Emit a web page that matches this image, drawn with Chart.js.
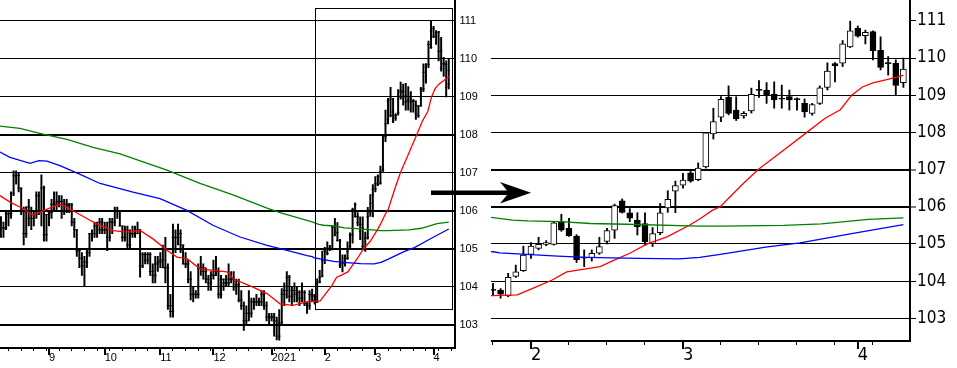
<!DOCTYPE html>
<html lang="en">
<head>
<meta charset="UTF-8">
<title>USD/JPY daily</title>
<script src="https://cdn.jsdelivr.net/npm/chart.js"></script>
<style>
  body { margin: 0; background: #fff; }
  .wrap { position: relative; width: 957px; height: 368px; overflow: hidden; }
  canvas, svg { position: absolute; top: 0; }
  #overview { left: 0; }
  #detail { left: 491px; }
  #arrow { left: 0; pointer-events: none; }
</style>
</head>
<body>
<div class="wrap">
  <canvas id="overview" width="491" height="368"></canvas>
  <canvas id="detail" width="466" height="368"></canvas>
  <svg id="arrow" width="957" height="368">
    <path d="M431,190.5 L507,190.5 L500,182 L531,192.8 L500,203.5 L507,195 L431,195 Z" fill="#000"/>
  </svg>
</div>

<script>
// weekday index, 0 = Mon 3 Aug 2020; first bar is Wed 5 Aug
const firstDay = 2;

// daily bars, Aug 2020 .. 9 Apr 2021
const opens = [
  105.70,105.55,105.55,105.92,105.93,106.46,106.92,106.93,106.60,106.00,105.40,106.10,105.80,105.80,105.90,106.40,106.00,106.60,105.37,
  105.90,105.95,106.17,106.18,106.24,106.25,106.00,106.18,106.15,106.15,105.70,105.50,104.95,104.75,104.55,104.65,104.90,105.40,105.40,105.60,105.50,105.70,
  105.50,105.50,105.30,105.70,105.70,106.00,106.00,105.60,105.30,105.50,105.10,105.40,105.40,105.40,105.50,104.55,104.85,104.70,104.85,104.40,104.30,104.60,
  104.65,104.70,104.50,104.50,103.50,103.35,105.30,105.30,105.40,105.10,104.60,104.60,104.20,103.80,103.80,103.80,104.50,104.50,104.40,104.20,104.10,
  104.30,104.30,104.40,103.80,104.20,104.10,104.10,104.20,104.20,104.00,104.05,103.65,103.50,103.10,103.30,103.30,103.60,103.60,103.60,103.60,103.80,103.50,103.20,
  103.20,103.20,103.10,102.70,103.05,103.80,103.90,104.25,103.75,103.90,103.80,103.85,103.70,103.85,103.55,103.50,103.78,103.76,103.60,104.13,104.28,
  104.72,104.88,104.99,104.99,105.60,105.42,105.21,104.65,104.63,104.75,105.07,105.37,106.16,105.84,105.64,105.55,105.01,105.30,105.97,106.42,
  106.58,106.91,106.73,107.07,107.96,108.41,108.94,108.60,108.44,108.58,109.16,109.14,109.03,108.92,108.96,108.91,108.78,108.51,108.78,109.21,109.85,109.86,110.30,
  110.80,110.60,110.71,110.21,109.88,109.86,109.34
];
const highs = [
  105.85,105.70,106.00,106.00,106.50,107.05,107.05,107.00,106.60,106.10,106.10,106.30,106.10,106.00,106.50,106.50,106.95,106.65,105.90,
  106.00,106.30,106.50,106.50,106.40,106.40,106.30,106.30,106.20,106.20,105.80,105.50,105.00,104.90,104.80,105.00,105.40,105.50,105.70,105.70,105.80,105.80,
  105.70,105.70,105.80,105.80,106.10,106.10,106.00,105.60,105.60,105.60,105.50,105.60,105.60,105.70,105.50,104.90,104.90,104.90,104.90,104.60,104.80,104.80,
  104.90,105.10,105.30,104.60,103.80,105.65,105.50,105.65,105.50,105.10,104.90,104.70,104.40,104.00,103.90,104.60,104.80,104.60,104.50,104.30,104.40,
  104.70,104.80,104.50,104.30,104.20,104.30,104.60,104.40,104.40,104.20,104.20,103.90,103.60,103.50,103.90,103.70,103.70,103.80,103.70,103.90,103.90,103.60,103.30,
  103.30,103.30,103.20,103.40,103.95,104.10,104.40,104.30,104.00,104.10,104.00,103.90,104.10,103.90,103.60,103.90,103.94,103.80,104.21,104.43,104.94,
  105.04,105.18,105.09,105.60,105.80,105.69,105.25,104.84,104.84,105.18,105.42,106.07,106.21,105.95,105.84,105.84,105.44,106.09,106.43,106.69,
  106.90,106.95,107.18,108.00,108.65,108.96,109.25,108.96,108.56,109.19,109.39,109.34,109.36,109.27,109.14,108.93,108.90,108.78,109.25,109.87,109.88,110.47,110.99,
  110.86,110.75,110.73,110.57,110.04,109.95,110.00
];
const lows = [
  105.30,105.30,105.50,105.60,105.80,106.40,106.70,106.50,105.90,105.10,105.30,105.60,105.50,105.60,105.80,105.90,105.60,105.20,105.20,
  105.60,105.80,106.00,106.00,106.10,105.80,105.90,105.95,105.95,105.60,105.30,104.80,104.50,104.30,104.00,104.50,104.80,105.20,105.30,105.30,105.40,105.40,
  105.40,104.95,105.20,105.40,105.60,105.80,105.60,105.20,105.20,105.00,105.00,105.30,105.30,105.40,104.25,104.50,104.60,104.60,104.30,104.10,104.10,104.40,
  104.50,104.50,104.10,103.40,103.20,103.20,104.90,105.10,104.90,104.60,104.50,104.10,103.65,103.60,103.70,103.70,104.30,104.20,104.10,103.90,103.90,
  104.20,104.30,103.70,103.70,103.90,104.00,104.00,104.10,103.90,103.80,103.60,103.40,102.85,103.00,103.10,103.20,103.40,103.50,103.50,103.50,103.40,103.10,103.00,
  103.10,102.70,102.60,102.59,103.00,103.50,103.70,103.60,103.50,103.60,103.60,103.50,103.60,103.50,103.30,103.40,103.63,103.54,103.58,104.10,104.26,
  104.61,104.84,104.95,104.97,105.34,105.20,104.50,104.39,104.54,104.72,105.00,105.15,105.83,105.60,105.24,104.97,104.93,105.25,105.85,105.84,
  106.50,106.66,106.70,107.04,107.82,108.29,108.47,108.32,108.38,108.52,108.94,108.78,108.65,108.65,108.60,108.60,108.41,108.46,108.75,109.14,109.36,109.77,110.28,
  110.56,110.38,109.95,109.68,109.54,109.00,109.21
];
const closes = [
  105.55,105.55,105.92,105.93,106.46,106.92,106.93,106.60,106.00,105.40,106.10,105.80,105.80,105.90,106.40,106.00,106.60,105.37,105.90,
  105.95,106.17,106.18,106.24,106.25,106.00,106.18,106.15,106.15,105.70,105.50,104.95,104.75,104.55,104.65,104.90,105.40,105.40,105.60,105.50,105.70,105.50,
  105.50,105.30,105.70,105.70,106.00,106.00,105.60,105.30,105.50,105.10,105.40,105.40,105.40,105.50,104.55,104.85,104.70,104.85,104.40,104.30,104.60,104.65,
  104.70,104.50,104.50,103.50,103.35,105.30,105.30,105.40,105.10,104.60,104.60,104.20,103.80,103.80,103.80,104.50,104.50,104.40,104.20,104.10,104.30,
  104.30,104.40,103.80,104.20,104.10,104.10,104.20,104.20,104.00,104.05,103.65,103.50,103.10,103.30,103.30,103.60,103.60,103.60,103.60,103.80,103.50,103.20,103.20,
  103.20,103.10,102.70,103.05,103.80,103.90,104.25,103.75,103.90,103.80,103.85,103.70,103.85,103.55,103.50,103.80,103.75,103.65,104.10,104.25,104.70,
  104.94,104.99,105.04,105.57,105.37,105.22,104.57,104.62,104.75,104.93,105.36,106.03,105.85,105.69,105.46,105.06,105.28,105.84,106.20,106.57,
  106.72,106.69,107.04,107.99,108.29,108.89,108.51,108.36,108.51,109.02,109.13,109.00,108.87,108.89,108.87,108.88,108.56,108.75,109.20,109.65,109.79,110.38,110.73,
  110.59,110.69,110.20,109.75,109.85,109.26,109.70
];

// moving averages: [day index, price]
const redMA = [[1.6,106.40],[5.6,106.23],[9.5,106.10],[14.7,105.88],[18.6,106.00],[25.3,106.18],[30.5,106.00],[37.2,105.75],[41.2,105.61],[46.3,105.48],[51.8,105.44],[57.0,105.48],[62.1,105.26],[67.6,104.96],[71.6,104.78],[75.5,104.74],[80.7,104.47],[85.8,104.43],[91.4,104.39],[93.7,104.21],[101.6,103.99],[107.2,103.82],[112.3,103.55],[117.4,103.51],[123.0,103.60],[125.0,103.61],[128.2,103.63],[130.3,103.81],[132.8,104.03],[134.7,104.25],[136.4,104.30],[139.1,104.39],[140.8,104.55],[143.0,104.75],[145.3,105.00],[147.9,105.19],[150.9,105.51],[152.2,105.67],[153.9,105.91],[154.9,106.00],[157.9,106.62],[159.9,107.00],[162.8,107.45],[166.3,108.00],[168.7,108.38],[170.7,108.61],[172.2,109.00],[173.6,109.22],[175.0,109.33],[176.8,109.42],[179.0,109.53]];
const blueMA = [[1.6,107.55],[5.6,107.41],[13.5,107.25],[17.0,107.32],[20.2,107.31],[25.3,107.19],[33.3,106.96],[41.2,106.72],[54.2,106.49],[64.9,106.32],[75.5,106.01],[85.8,105.62],[96.5,105.31],[107.2,105.09],[115.1,104.96],[123.0,104.82],[125.0,104.79],[125.9,104.76],[133.5,104.67],[137.3,104.64],[144.2,104.61],[149.5,104.60],[152.2,104.64],[154.9,104.72],[161.1,104.92],[165.4,105.03],[172.0,105.27],[179.0,105.52]];
const greenMA = [[1.6,108.23],[9.5,108.17],[18.6,108.02],[28.1,107.88],[38.4,107.67],[49.1,107.50],[58.2,107.29],[67.6,107.07],[80.7,106.72],[93.7,106.42],[107.2,106.07],[112.3,105.95],[120.2,105.80],[125.0,105.71],[127.6,105.64],[129.6,105.62],[133.9,105.60],[137.8,105.55],[142.6,105.53],[152.2,105.48],[154.9,105.48],[163.3,105.50],[168.2,105.54],[174.4,105.66],[179.0,105.70]];

// axes
const monthTicks = [21, 43, 65, 86, 109, 130, 150, 173];
const monthLabels = ['9', '10', '11', '12', '2021', '2', '3', '4'];
const priceTicks = [103, 104, 105, 106, 107, 108, 109, 110, 111];
const overviewBold = [103, 105, 106, 108];
const detailBold = [106, 107];

// part of the overview that the right panel blows up
const zoomDays = [126, 180.3];
const zoomPrices = [103.41, 111.34];

const narrow = "'Liberation Sans Narrow', 'Arial Narrow', 'DejaVu Sans Condensed', sans-serif";
Chart.defaults.font.family = "'Liberation Sans', Arial, sans-serif";
Chart.defaults.color = '#000';

const days = opens.map((_, k) => firstDay + k);
const wicks = days.map((d, k) => ({ x: d, y: [lows[k], highs[k]] }));
const bodies = days.map((d, k) => ({ x: d, y: [opens[k], closes[k]] }));
const bodyColors = days.map((_, k) => closes[k] >= opens[k] ? '#fff' : '#000');

function xTicks(min, max) {
  const list = [];
  for (let d = 0; d <= max; d += 5) {
    if (d >= min && !monthTicks.includes(d)) list.push({ value: d });
  }
  monthTicks.forEach((d, k) => {
    if (d >= min && d <= max) list.push({ value: d, month: true, name: monthLabels[k] });
  });
  return list.sort((a, b) => a.value - b.value);
}

// scales should not push the plot area around for their labels
function noPadding(s) {
  s.paddingTop = 0;
  s.paddingBottom = 0;
  s.paddingLeft = 0;
  s.paddingRight = 0;
}

function maLine(points, color) {
  return {
    type: 'line',
    data: points.map(p => ({ x: p[0], y: p[1] })),
    borderColor: color,
    borderWidth: 1.3,
    pointRadius: 0,
    tension: 0,
    order: 0
  };
}

function tickMarks(values) {
  return {
    type: 'line',
    showLine: false,
    data: days.map((d, k) => ({ x: d, y: values[k] })),
    pointStyle: 'line',
    pointRadius: 1.3,
    pointBorderWidth: 1,
    pointBorderColor: '#000',
    order: 1
  };
}

// longer, heavier tick under each month
const monthTickPlugin = {
  id: 'monthTicks',
  afterDraw(chart, args, opts) {
    const sx = chart.scales.x;
    const c = chart.ctx;
    c.save();
    c.strokeStyle = '#000';
    c.lineWidth = 2;
    sx.ticks.forEach(t => {
      if (!t.month) return;
      const px = Math.round(sx.getPixelForValue(t.value));
      c.beginPath();
      c.moveTo(px, sx.top);
      c.lineTo(px, sx.top + opts.length);
      c.stroke();
    });
    c.restore();
  }
};

const zoomBoxPlugin = {
  id: 'zoomBox',
  afterDatasetsDraw(chart) {
    const { x, y } = chart.scales;
    const c = chart.ctx;
    const l = Math.round(x.getPixelForValue(zoomDays[0]));
    const r = Math.round(x.getPixelForValue(zoomDays[1]));
    const t = Math.round(y.getPixelForValue(zoomPrices[1]));
    const b = Math.round(y.getPixelForValue(zoomPrices[0]));
    c.save();
    c.strokeStyle = '#000';
    c.lineWidth = 1;
    c.strokeRect(l + 0.5, t + 0.5, r - l, b - t);
    c.restore();
  }
};

function xScale(min, max, height, tickLength, font) {
  return {
    type: 'linear',
    min: min,
    max: max,
    offset: false,
    afterBuildTicks: s => { s.ticks = xTicks(min, max); },
    afterFit: s => { s.height = height; noPadding(s); },
    grid: { drawOnChartArea: false, tickLength: tickLength, tickColor: '#000', tickWidth: 1, offset: false },
    border: { color: '#000', width: 2 },
    ticks: {
      autoSkip: false, maxRotation: 0, align: 'start', padding: 0, font: font,
      callback: (v, k, t) => t[k].name || ''
    }
  };
}

function baseOptions(scales, plugins) {
  return {
    responsive: false,
    animation: false,
    events: [],
    layout: { padding: 0, autoPadding: false },
    plugins: Object.assign({ legend: { display: false }, tooltip: { enabled: false } }, plugins),
    scales: scales
  };
}

// left: daily OHLC bars with three averages
new Chart(document.getElementById('overview'), {
  type: 'bar',
  data: {
    datasets: [
      maLine(greenMA, '#008000'),
      maLine(blueMA, '#0000ff'),
      maLine(redMA, '#ff0000'),
      tickMarks(opens),
      tickMarks(closes),
      { type: 'bar', data: wicks, backgroundColor: '#000', barThickness: 1.3, grouped: false, order: 2 }
    ]
  },
  options: baseOptions({
    x: xScale(1.632, 181.28, 20, 3, { size: 11 }),
    y: {
      position: 'right',
      min: 102.386,
      max: 111.553,
      afterBuildTicks: s => { s.ticks = priceTicks.map(v => ({ value: v })); },
      afterFit: s => { s.width = 36.5; noPadding(s); },
      grid: {
        color: '#000',
        lineWidth: c => c.tick && overviewBold.includes(c.tick.value) ? 2 : 1,
        drawTicks: false
      },
      border: { color: '#000', width: 2 },
      ticks: { padding: 5, font: { size: 11 } }
    }
  }, { monthTicks: { length: 7 } }),
  plugins: [monthTickPlugin, zoomBoxPlugin]
});

// right: the last ten weeks as candles
new Chart(document.getElementById('detail'), {
  type: 'bar',
  data: {
    datasets: [
      maLine(greenMA, '#008000'),
      maLine(blueMA, '#0000ff'),
      maLine(redMA, '#ff0000'),
      {
        type: 'bar', data: bodies, backgroundColor: bodyColors, borderColor: '#000', borderWidth: 1,
        borderSkipped: false, barThickness: 6, minBarLength: 1, grouped: false, order: 1
      },
      { type: 'bar', data: wicks, backgroundColor: '#000', barThickness: 1.2, grouped: false, order: 2 }
    ]
  },
  options: baseOptions({
    x: xScale(124.74, 179.87, 27, 4, { family: narrow, size: 18 }),
    y: {
      position: 'right',
      min: 102.39,
      max: 111.56,
      afterBuildTicks: s => { s.ticks = priceTicks.map(v => ({ value: v })); },
      afterFit: s => { s.width = 47; noPadding(s); },
      grid: {
        color: c => c.tick && c.tick.value === 111 ? 'rgba(0,0,0,0)' : '#000',
        lineWidth: c => c.tick && detailBold.includes(c.tick.value) ? 2 : 1,
        tickLength: 6,
        tickWidth: 1,
        tickColor: '#000'
      },
      border: { color: '#000', width: 2 },
      ticks: { padding: 1, font: { family: narrow, size: 17 } }
    }
  }, { monthTicks: { length: 8 } }),
  plugins: [monthTickPlugin]
});
</script>
</body>
</html>
